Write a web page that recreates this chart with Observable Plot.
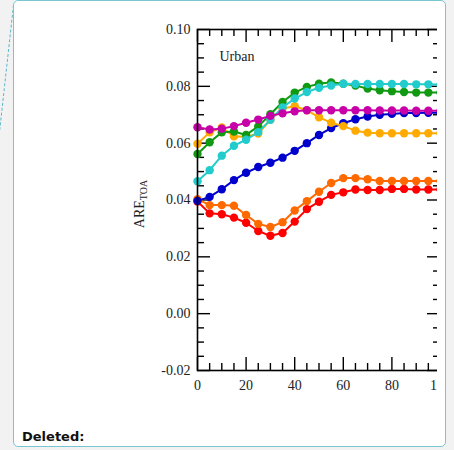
<!DOCTYPE html>
<html><head><meta charset="utf-8">
<script src="https://cdn.jsdelivr.net/npm/d3@7"></script>
<script src="https://cdn.jsdelivr.net/npm/@observablehq/plot@0.6"></script>
<style>
html,body{margin:0;padding:0;background:#f2f2f2;width:454px;height:450px;overflow:hidden;}
#card{position:absolute;left:13px;top:0px;width:431px;height:445px;background:#fff;border:1.5px solid #79c6d3;border-radius:5px;}
#dash{position:absolute;left:13px;top:5px;height:126px;border-left:1.3px dashed #5ab7cc;transform:rotate(6.3deg);transform-origin:top left}
#chart{position:absolute;left:0;top:0;width:437px;height:400px;overflow:hidden}
#chart svg{max-width:none !important;}
#deleted{position:absolute;left:22px;top:429px;font:bold 13px "DejaVu Sans",Verdana,sans-serif;color:#111}
</style></head>
<body>
<div id="dash"></div>
<div id="card"></div>
<div id="chart"></div>
<div id="deleted">Deleted:</div>
<script>
const xs = [0,5,10,15,20,25,30,35,40,45,50,55,60,65,70,75,80,85,90,95,100];
const red = [0.0395,0.0353,0.0350,0.0338,0.0320,0.0291,0.0274,0.0284,0.0324,0.0368,0.0394,0.0418,0.0427,0.0437,0.0435,0.0435,0.0439,0.0439,0.0437,0.0437,0.0437];
const darkorange = [0.0403,0.0382,0.0382,0.0380,0.0347,0.0316,0.0305,0.0322,0.0363,0.0396,0.0429,0.0460,0.0477,0.0477,0.0473,0.0467,0.0467,0.0467,0.0467,0.0467,0.0467];
const blue = [0.0397,0.0411,0.0438,0.0470,0.0496,0.0516,0.0531,0.0549,0.0573,0.0600,0.0629,0.0653,0.0670,0.0684,0.0694,0.0700,0.0703,0.0706,0.0706,0.0707,0.0707];
const orange = [0.0598,0.0638,0.0655,0.0624,0.0622,0.0634,0.0682,0.0722,0.0730,0.0716,0.0691,0.0672,0.0660,0.0644,0.0637,0.0635,0.0635,0.0635,0.0635,0.0635,0.0635];
const green = [0.0562,0.0603,0.0638,0.0641,0.0629,0.0659,0.0702,0.0745,0.0778,0.0798,0.0809,0.0814,0.0809,0.0803,0.0792,0.0786,0.0783,0.0780,0.0778,0.0778,0.0778];
const cyan = [0.0466,0.0505,0.0556,0.0591,0.0612,0.0639,0.0682,0.0726,0.0757,0.0780,0.0795,0.0803,0.0809,0.0808,0.0808,0.0808,0.0808,0.0808,0.0807,0.0807,0.0806];
const magenta = [0.0656,0.0648,0.0651,0.0660,0.0672,0.0683,0.0696,0.0705,0.0712,0.0716,0.0716,0.0716,0.0716,0.0716,0.0716,0.0715,0.0715,0.0715,0.0714,0.0714,0.0714];

const seriesNames = ["red","darkorange","blue","orange","green","cyan","magenta"];
const seriesValues = [red, darkorange, blue, orange, green, cyan, magenta];
const seriesColors = ["#ff0000","#ff6a00","#0000cc","#ffaa00","#129912","#22cccc","#c800a8"];

const yMajor = [-0.02,0.00,0.02,0.04,0.06,0.08,0.10];
const yMinor = [-0.015,-0.01,-0.005,0.005,0.01,0.015,0.025,0.03,0.035,0.045,0.05,0.055,0.065,0.07,0.075,0.085,0.09,0.095];
const xMajor = [0,20,40,60,80,100];
const xMinor = [5,10,15,25,30,35,45,50,55,65,70,75,85,90,95];
const panelLabel = "Urban";

const W = 460, H = 400, mL = 197, mR = 20, mT = 29, mB = 30;
const pw = W - mL - mR, ph = H - mT - mB;

const marks = [];
seriesNames.forEach((name, k) => {
  const rows = xs.map((x, i) => ({x, y: seriesValues[k][i], s: name}));
  marks.push(Plot.line(rows, {x: "x", y: "y", stroke: seriesColors[k], strokeWidth: 2}));
  marks.push(Plot.dot(rows, {x: "x", y: "y", fill: seriesColors[k], r: 4.2}));
});

const tickStyle = {stroke: "#000", strokeWidth: 1.4};
const plot = Plot.plot({
  width: W, height: H, marginLeft: mL, marginRight: mR, marginTop: mT, marginBottom: mB,
  x: {domain: [0, 100]},
  y: {domain: [-0.02, 0.10]},
  style: {fontFamily: "'Liberation Serif', 'Times New Roman', serif", fontSize: "14px", color: "#222", background: "transparent", maxWidth: "none"},
  marks: [
    Plot.tickY(yMajor, {y: d => d, insetRight: pw - 13, ...tickStyle}),
    Plot.tickY(yMinor, {y: d => d, insetRight: pw - 7, ...tickStyle}),
    Plot.tickY(yMajor, {y: d => d, insetLeft: pw - 13, ...tickStyle}),
    Plot.tickY(yMinor, {y: d => d, insetLeft: pw - 7, ...tickStyle}),
    Plot.tickX(xMajor, {x: d => d, insetTop: ph - 13, ...tickStyle}),
    Plot.tickX(xMinor, {x: d => d, insetTop: ph - 7, ...tickStyle}),
    Plot.tickX(xMajor, {x: d => d, insetBottom: ph - 13, ...tickStyle}),
    Plot.tickX(xMinor, {x: d => d, insetBottom: ph - 7, ...tickStyle}),
    Plot.axisY({anchor: "left", ticks: yMajor, tickSize: 0, tickPadding: 7, tickFormat: d => d.toFixed(2), label: null}),
    Plot.axisX({anchor: "bottom", ticks: xMajor, tickSize: 0, tickPadding: 10, tickFormat: d => String(d), label: null}),
    ...marks,
    Plot.text([panelLabel], {frameAnchor: "top-left", dx: 22, dy: 27, textAnchor: "start", lineAnchor: "middle", fill: "#222"}),
    Plot.frame({stroke: "#000", strokeWidth: 1.6})
  ]
});
plot.style.maxWidth = "none";
document.getElementById("chart").appendChild(plot);

const svg = d3.select(plot);
const t = svg.append("text")
  .attr("transform", "translate(144,204) rotate(-90)")
  .attr("text-anchor", "middle")
  .attr("font-family", "'Liberation Serif', 'Times New Roman', serif")
  .attr("font-size", 14)
  .attr("fill", "#222");
t.append("tspan").text("ARE");
t.append("tspan").attr("font-size", 10).attr("dy", 3).text("TOA");
</script>
</body></html>
